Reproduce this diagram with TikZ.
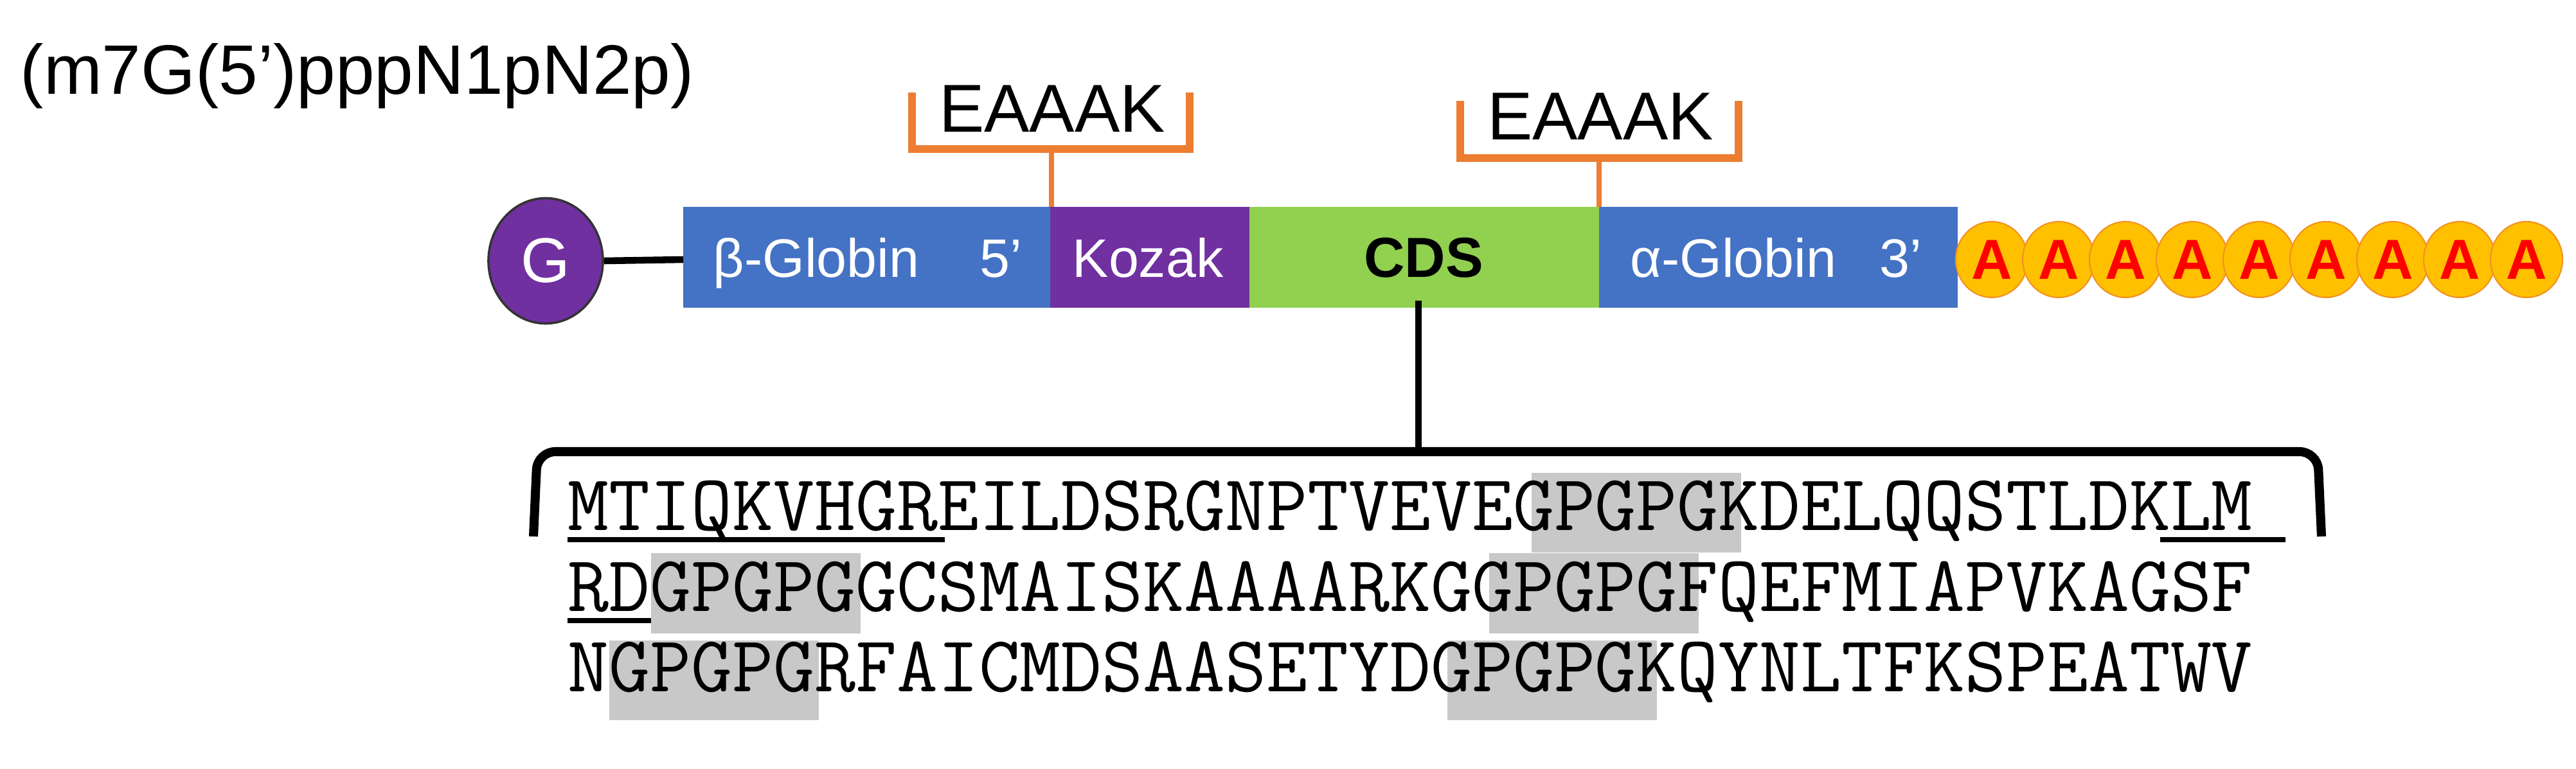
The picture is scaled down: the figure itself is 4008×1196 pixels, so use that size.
\documentclass[tikz,border=0pt]{standalone}
\usepackage{fontspec}
\usetikzlibrary{shapes.geometric}
\setmainfont{Liberation Sans}
\definecolor{cblue}{RGB}{68,114,196}
\definecolor{cpurple}{RGB}{112,48,160}
\definecolor{cgreen}{RGB}{146,208,80}
\definecolor{corange}{RGB}{237,125,49}
\definecolor{cyellow}{RGB}{255,192,0}
\definecolor{cgrey}{RGB}{200,200,200}
\begin{document}
\begin{tikzpicture}[x=0.01cm,y=-0.01cm,
  bartxt/.style={text=white,font=\fontsize{24}{24}\selectfont,anchor=base,inner sep=0},
  brk/.style={draw=corange,line width=3.2pt},
  eaaak/.style={font=\fontsize{30}{30}\selectfont,anchor=base,inner sep=0},
  acirc/.style={ellipse,fill=cyellow,draw=corange!70!cyellow,line width=0.6pt,minimum width=1.12cm,minimum height=1.18cm,inner sep=0},
  seq/.style={font=\ttfamily\fontsize{35.3}{35.3}\selectfont,anchor=base west,inner sep=0},
  hl/.style={fill=cgrey,draw=none},
  ul/.style={line width=2.5pt}]
\useasboundingbox (0,0) rectangle (4008,1196);
% title
\node[anchor=base west,inner sep=0,font=\fontsize{31}{31}\selectfont] (title) at (31,146) {(m7G(5’)pppN1pN2p)};
% bar
\fill[cblue] (1063,322) rectangle (1634,479);
\fill[cpurple] (1634,322) rectangle (1944,479);
\fill[cgreen] (1944,322) rectangle (2488,479);
\fill[cblue] (2488,322) rectangle (3046,479);
\coordinate (barL) at (1063,404);
\node[bartxt] (bg) at (1270,431) {β-Globin};
\node[bartxt] (f5) at (1557,431) {5’};
\node[bartxt] (koz) at (1786,431) {Kozak};
\node[bartxt,text=black,font=\bfseries\fontsize{25}{25}\selectfont] (cds) at (2215,431) {CDS};
\node[bartxt] (ag) at (2697,431) {α-Globin};
\node[bartxt] (t3) at (2957,431) {3’};
% cap
\node[ellipse,fill=cpurple,draw=black!80,line width=1pt,minimum width=1.78cm,minimum height=1.95cm,inner sep=0,text=white,font=\fontsize{28}{28}\selectfont] (G) at (849,406) {G};
\draw[line width=3pt] (G.east) -- (barL);
% poly A
\foreach \i in {0,...,8}{
  \node[acirc,text=red,font=\bfseries\fontsize{25}{25}\selectfont] (A\i) at ({3099+\i*104},404) {A};
}
% EAAAK brackets
\coordinate (s1) at (1636,322);
\draw[brk] (1419,144) -- (1419,232) -- (1851,232) -- (1851,144);
\coordinate (b1) at (1636,232);
\draw[corange,line width=2.2pt] (b1) -- (s1);
\node[eaaak] (e1) at (1637,205) {EAAAK};
\coordinate (s2) at (2488,322);
\draw[brk] (2272,157) -- (2272,246) -- (2705,246) -- (2705,157);
\coordinate (b2) at (2488,246);
\draw[corange,line width=2.2pt] (b2) -- (s2);
\node[eaaak] (e2) at (2490,217) {EAAAK};
% CDS stem and big bracket
\coordinate (c1) at (2207,468);
\coordinate (c2) at (2207,703);
\draw[line width=3pt] (c1) -- (c2);
\draw[line width=4pt,rounded corners=8pt] (830,835) -- (836,703) -- (3606,703) -- (3612,835);
% highlights
\def\cw{65.2}
\fill[hl] ({883+23*\cw},736) rectangle ({883+28*\cw},860);
\fill[hl] ({883+2*\cw},861) rectangle ({883+7*\cw},986);
\fill[hl] ({883+22*\cw},861) rectangle ({883+27*\cw},986);
\fill[hl] ({883+1*\cw},997) rectangle ({883+6*\cw},1121);
\fill[hl] ({883+21*\cw},997) rectangle ({883+26*\cw},1121);
% sequence
\node[seq] (l1) at (883,825) {MTIQKVHGREILDSRGNPTVEVEGPGPGKDELQQSTLDKLM};
\node[seq] (l2) at (883,951) {RDGPGPGGCSMAISKAAAARKGGPGPGFQEFMIAPVKAGSF};
\node[seq] (l3) at (883,1076) {NGPGPGRFAICMDSAASETYDGPGPGKQYNLTFKSPEATWV};
% underlines
\draw[ul] (883,840) -- ({883+9*\cw},840);
\draw[ul] ({883+38*\cw},840) -- ({883+41*\cw},840);
\draw[ul] (883,966) -- ({883+2*\cw},966);
\end{tikzpicture}
\end{document}
